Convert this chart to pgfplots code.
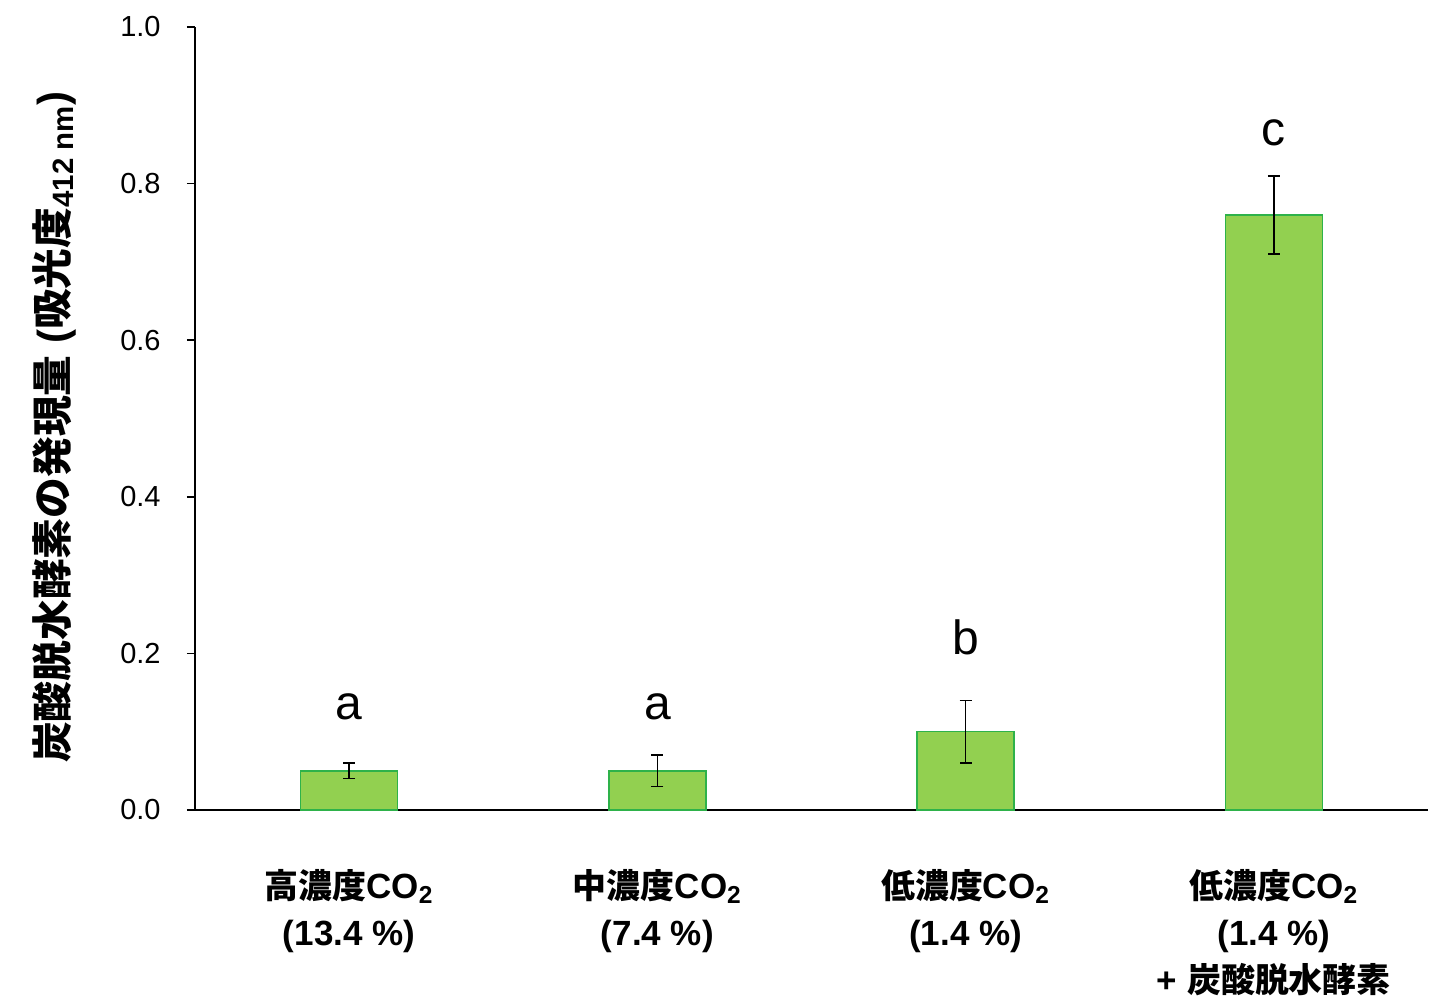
\documentclass[border=0pt]{standalone}
\usepackage{pgfplots}
\pgfplotsset{compat=1.18}
\usepackage{fontspec}
\setmainfont{Liberation Sans}
\newfontfamily\cjk[Scale=0.97]{Noto Sans CJK JP}
\newcommand{\J}[1]{{\cjk #1}}
\definecolor{barfill}{HTML}{92D050}
\definecolor{bardraw}{HTML}{2EB24A}
\pgfplotstableread{
x y e
0 0.05 0.01
1 0.05 0.02
2 0.10 0.04
3 0.76 0.05
}\bars
\pgfplotstableread{
x y l
0 0.115 a
1 0.115 a
2 0.198 b
3 0.849 c
}\letters
\begin{document}
\begin{tikzpicture}
\begin{axis}[name=ax, scale only axis, width=616.5pt, height=391.5pt,
  xmin=-0.5, xmax=3.5, ymin=0, ymax=1,
  axis x line*=bottom, axis y line*=left,
  axis line style={black, line width=0.75pt},
  xtick={0,1,2,3},
  xticklabels={{\J{高濃度}CO\textsubscript{2}\\(13.4 \%)},{\J{中濃度}CO\textsubscript{2}\\(7.4 \%)},{\J{低濃度}CO\textsubscript{2}\\(1.4 \%)},{\J{低濃度}CO\textsubscript{2}\\(1.4 \%)\\+ \J{炭酸脱水酵素}}},
  xtick style={draw=none},
  xticklabel style={align=center, font=\bfseries\fontsize{17.5}{23.5}\selectfont, inner sep=0pt, anchor=north, yshift=-25.5pt},
  ytick={0,0.2,0.4,0.6,0.8,1.0},
  tick align=outside, major tick length=4pt,
  ytick style={black, line width=0.75pt},
  yticklabel style={font=\fontsize{14.5}{16}\selectfont, inner sep=0pt, xshift=-13pt},
  /pgf/number format/assume math mode=true,
  yticklabel={\pgfmathprintnumber[fixed, fixed zerofill, precision=1]{\tick}},
  ylabel={\J{炭酸脱水酵素の発現量} (\J{吸光度}\textsubscript{412 nm})},
  ylabel style={font=\bfseries\fontsize{21}{24}\selectfont, at={(axis description cs:-0.114,0.489)}, anchor=center, rotate=0},
  clip=false,
]
\addplot[ybar, bar width=48.5pt, fill=barfill, draw=bardraw, line width=0.75pt,
  error bars/.cd, y dir=both, y explicit,
  error bar style={black, line width=0.75pt},
  error mark options={black, line width=0.75pt, mark size=3pt, rotate=90}]
  table[x=x, y=y, y error=e]{\bars};
\addplot[draw=none, mark=none, nodes near coords, point meta=explicit symbolic,
  nodes near coords style={anchor=base, inner sep=0pt, black, font=\fontsize{24}{24}\selectfont}]
  table[x=x, y=y, meta=l]{\letters};
\end{axis}
\pgfresetboundingbox
\path (ax.south west) ++(-97.5pt,-96pt) rectangle ++(720pt,501pt);
\end{tikzpicture}
\end{document}
